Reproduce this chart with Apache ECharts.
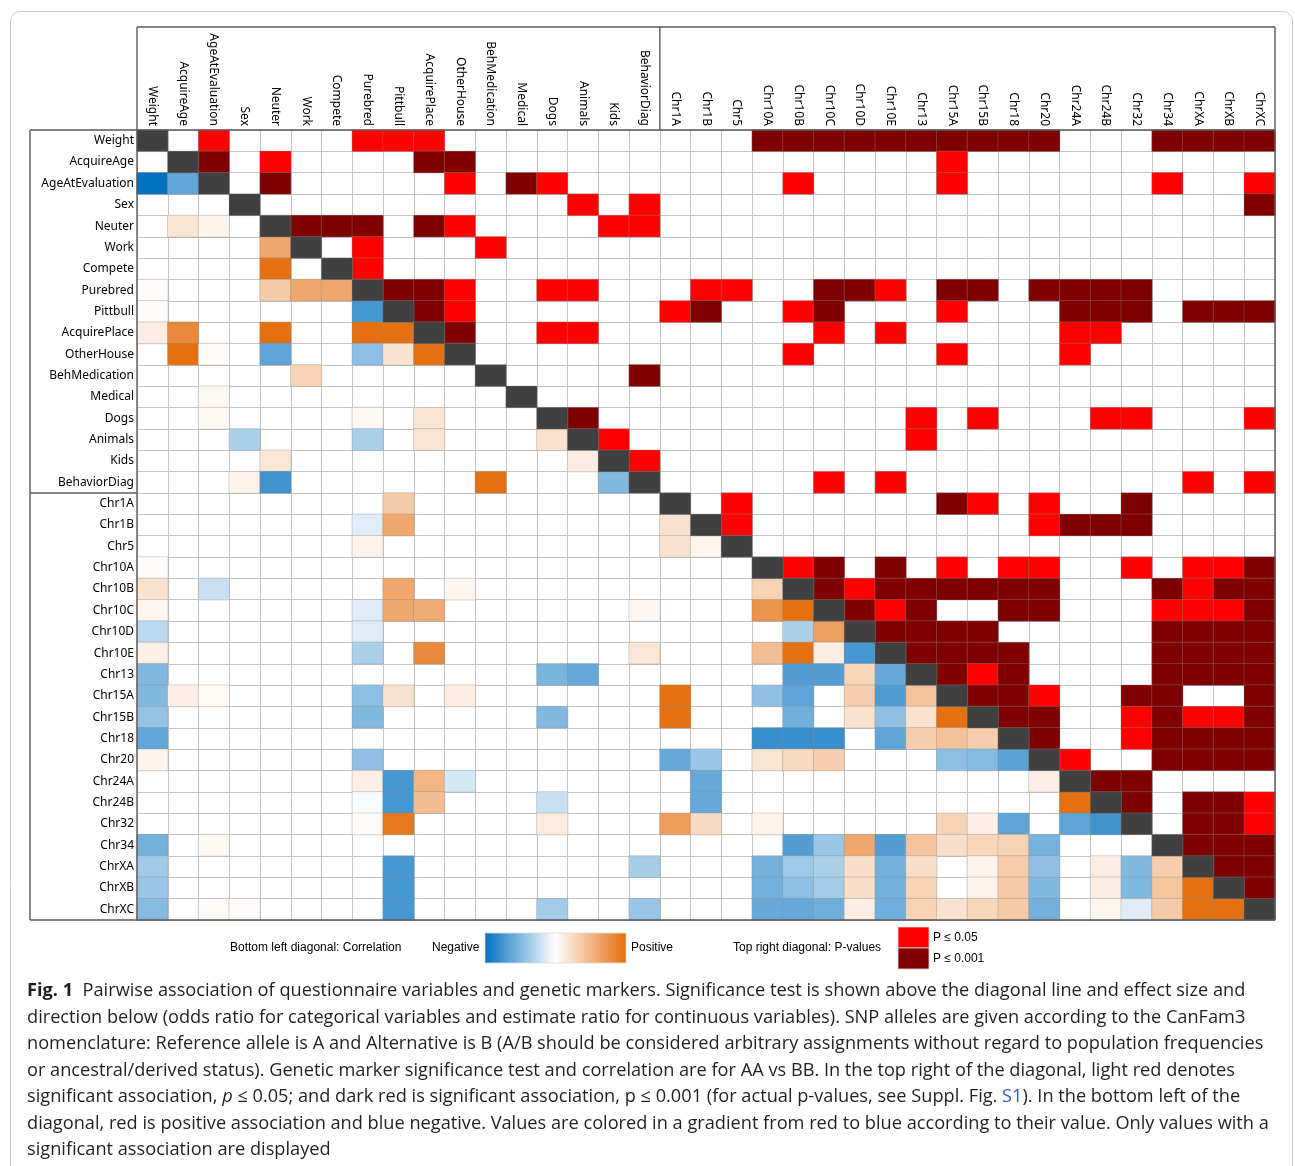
<!DOCTYPE html>
<html>
<head>
<meta charset="utf-8">
<script src="https://cdn.jsdelivr.net/npm/echarts@6/dist/echarts.min.js"></script>
<style>
  html, body { margin: 0; padding: 0; background: #fff; }
  #chart { width: 1295px; height: 1166px; }
</style>
</head>
<body>
<div id="chart"></div>
<script>
// Questionnaire variables followed by the genetic markers
const questionnaire = ['Weight', 'AcquireAge', 'AgeAtEvaluation', 'Sex', 'Neuter', 'Work', 'Compete',
  'Purebred', 'Pittbull', 'AcquirePlace', 'OtherHouse', 'BehMedication', 'Medical', 'Dogs', 'Animals',
  'Kids', 'BehaviorDiag'];
const markers = ['Chr1A', 'Chr1B', 'Chr5', 'Chr10A', 'Chr10B', 'Chr10C', 'Chr10D', 'Chr10E', 'Chr13',
  'Chr15A', 'Chr15B', 'Chr18', 'Chr20', 'Chr24A', 'Chr24B', 'Chr32', 'Chr34', 'ChrXA', 'ChrXB', 'ChrXC'];
const variables = questionnaire.concat(markers);

// Above the diagonal: [row, column, level], level 1 = P ≤ 0.05, level 2 = P ≤ 0.001
const significance = [
  [0,2,1],[0,7,1],[0,8,1],[0,9,1],[0,20,2],[0,21,2],[0,22,2],[0,23,2],[0,24,2],[0,25,2],[0,26,2],[0,27,2],[0,28,2],[0,29,2],[0,33,2],[0,34,2],[0,35,2],[0,36,2],
  [1,2,2],[1,4,1],[1,9,2],[1,10,2],[1,26,1],
  [2,4,2],[2,10,1],[2,12,2],[2,13,1],[2,21,1],[2,26,1],[2,33,1],[2,36,1],
  [3,14,1],[3,16,1],[3,36,2],
  [4,5,2],[4,6,2],[4,7,2],[4,9,2],[4,10,1],[4,15,1],[4,16,1],
  [5,7,1],[5,11,1],
  [6,7,1],
  [7,8,2],[7,9,2],[7,10,1],[7,13,1],[7,14,1],[7,18,1],[7,19,1],[7,22,2],[7,23,2],[7,24,1],[7,26,2],[7,27,2],[7,29,2],[7,30,2],[7,31,2],[7,32,2],
  [8,9,2],[8,10,1],[8,17,1],[8,18,2],[8,21,1],[8,22,2],[8,26,1],[8,30,2],[8,31,2],[8,32,2],[8,34,2],[8,35,2],[8,36,2],
  [9,10,2],[9,13,1],[9,14,1],[9,22,1],[9,24,1],[9,30,1],[9,31,1],
  [10,21,1],[10,26,1],[10,30,1],
  [11,16,2],
  [13,14,2],[13,25,1],[13,27,1],[13,31,1],[13,32,1],[13,36,1],
  [14,15,1],[14,25,1],
  [15,16,1],
  [16,22,1],[16,24,1],[16,34,1],[16,36,1],
  [17,19,1],[17,26,2],[17,27,1],[17,29,1],[17,32,2],
  [18,19,1],[18,29,1],[18,30,2],[18,31,2],[18,32,2],
  [20,21,1],[20,22,2],[20,24,2],[20,26,1],[20,28,1],[20,29,1],[20,32,1],[20,34,1],[20,35,1],[20,36,2],
  [21,22,2],[21,23,1],[21,24,2],[21,25,2],[21,26,2],[21,27,2],[21,28,2],[21,29,2],[21,33,2],[21,34,1],[21,35,2],[21,36,2],
  [22,23,2],[22,24,1],[22,25,2],[22,28,2],[22,29,2],[22,33,1],[22,34,1],[22,35,1],[22,36,2],
  [23,24,2],[23,25,2],[23,26,2],[23,27,2],[23,33,2],[23,34,2],[23,35,2],[23,36,2],
  [24,25,2],[24,26,2],[24,27,2],[24,28,2],[24,33,2],[24,34,2],[24,35,2],[24,36,2],
  [25,26,2],[25,27,1],[25,28,2],[25,33,2],[25,34,2],[25,35,2],[25,36,2],
  [26,27,2],[26,28,2],[26,29,1],[26,32,2],[26,33,2],[26,36,2],
  [27,28,2],[27,29,2],[27,32,1],[27,33,2],[27,34,1],[27,35,1],[27,36,2],
  [28,29,2],[28,32,1],[28,33,2],[28,34,2],[28,35,2],[28,36,2],
  [29,30,1],[29,33,2],[29,34,2],[29,35,2],[29,36,2],
  [30,31,2],[30,32,2],
  [31,32,2],[31,34,2],[31,35,2],[31,36,1],
  [32,34,2],[32,35,2],[32,36,1],
  [33,34,2],[33,35,2],[33,36,2],
  [34,35,2],[34,36,2],
  [35,36,2]
];

// Below the diagonal: [row, column, effect], -1 = strongest negative, 1 = strongest positive
const correlation = [
  [2,0,-1.0],[2,1,-0.62],
  [4,1,0.18],[4,2,0.08],
  [5,4,0.6],
  [6,4,0.97],
  [7,0,0.03],[7,4,0.36],[7,5,0.6],[7,6,0.6],
  [8,0,0.03],[8,7,-0.73],
  [9,0,0.12],[9,1,0.8],[9,4,0.97],[9,7,0.97],[9,8,0.97],
  [10,1,0.97],[10,2,0.03],[10,4,-0.63],[10,7,-0.45],[10,8,0.2],[10,9,0.97],
  [11,5,0.3],
  [12,2,0.05],
  [13,2,0.05],[13,7,0.05],[13,9,0.18],
  [14,3,-0.33],[14,7,-0.33],[14,9,0.18],[14,13,0.2],
  [15,4,0.17],[15,14,0.12],
  [16,3,0.08],[16,4,-0.75],[16,11,0.97],[16,15,-0.5],
  [17,8,0.36],
  [18,7,-0.12],[18,8,0.6],[18,17,0.2],
  [19,7,0.08],[19,17,0.2],[19,18,0.07],
  [20,0,0.03],
  [21,0,0.2],[21,2,-0.22],[21,8,0.6],[21,10,0.07],[21,20,0.3],
  [22,0,0.06],[22,7,-0.13],[22,8,0.6],[22,9,0.57],[22,16,0.06],[22,20,0.73],[22,21,0.97],
  [23,0,-0.27],[23,7,-0.13],[23,21,-0.33],[23,22,0.65],
  [24,0,0.1],[24,7,-0.33],[24,9,0.8],[24,16,0.17],[24,20,0.44],[24,21,0.97],[24,22,0.12],[24,23,-0.73],
  [25,0,-0.5],[25,13,-0.52],[25,14,-0.6],[25,21,-0.68],[25,22,-0.68],[25,23,0.28],[25,24,-0.6],
  [26,0,-0.5],[26,1,0.1],[26,2,0.04],[26,7,-0.45],[26,8,0.2],[26,10,0.12],[26,17,0.97],[26,20,-0.44],[26,21,-0.63],[26,23,0.33],[26,24,-0.7],[26,25,0.41],
  [27,0,-0.42],[27,7,-0.5],[27,13,-0.5],[27,17,0.97],[27,21,-0.56],[27,23,0.2],[27,24,-0.44],[27,25,0.2],[27,26,0.97],
  [28,0,-0.62],[28,20,-0.78],[28,21,-0.78],[28,22,-0.78],[28,24,-0.63],[28,25,0.33],[28,26,0.42],[28,27,0.33],
  [29,0,0.08],[29,7,-0.44],[29,17,-0.6],[29,18,-0.4],[29,20,0.18],[29,21,0.25],[29,22,0.33],[29,26,-0.45],[29,27,-0.48],[29,28,-0.65],
  [30,7,0.1],[30,8,-0.73],[30,9,0.5],[30,10,-0.17],[30,18,-0.6],[30,29,0.1],
  [31,7,-0.03],[31,8,-0.73],[31,9,0.45],[31,13,-0.22],[31,18,-0.6],[31,30,0.97],
  [32,7,0.03],[32,8,0.92],[32,13,0.13],[32,17,0.67],[32,18,0.25],[32,20,0.08],[32,26,0.3],[32,27,0.1],[32,28,-0.63],[32,30,-0.63],[32,31,-0.75],
  [33,0,-0.55],[33,2,0.05],[33,21,-0.68],[33,22,-0.4],[33,23,0.6],[33,24,-0.68],[33,25,0.41],[33,26,0.22],[33,27,0.28],[33,28,0.3],[33,29,-0.54],
  [34,0,-0.38],[34,8,-0.73],[34,16,-0.35],[34,20,-0.55],[34,21,-0.38],[34,22,-0.33],[34,23,0.22],[34,24,-0.55],[34,25,0.22],[34,27,0.08],[34,28,0.35],[34,29,-0.44],[34,31,0.12],[34,32,-0.5],[34,33,0.33],
  [35,0,-0.4],[35,8,-0.73],[35,20,-0.55],[35,21,-0.45],[35,22,-0.36],[35,23,0.22],[35,24,-0.55],[35,25,0.3],[35,27,0.08],[35,28,0.36],[35,29,-0.5],[35,31,0.12],[35,32,-0.5],[35,33,0.4],[35,34,0.97],
  [36,0,-0.48],[36,2,0.04],[36,3,0.02],[36,8,-0.72],[36,13,-0.36],[36,16,-0.4],[36,20,-0.6],[36,21,-0.6],[36,22,-0.56],[36,23,0.12],[36,24,-0.56],[36,25,0.3],[36,26,0.2],[36,27,0.28],[36,28,0.36],[36,29,-0.55],[36,31,0.07],[36,32,-0.13],[36,33,0.36],[36,34,0.97],[36,35,0.97]
];

const legendLabels = ['Bottom left diagonal: Correlation', 'Negative', 'Positive', 'Top right diagonal: P-values', 'P ≤ 0.05', 'P ≤ 0.001'];

const captionLines = [
  '{b|Fig. 1}  Pairwise association of questionnaire variables and genetic markers. Significance test is shown above the diagonal line and effect size and',
  'direction below (odds ratio for categorical variables and estimate ratio for continuous variables). SNP alleles are given according to the CanFam3',
  'nomenclature: Reference allele is A and Alternative is B (A/B should be considered arbitrary assignments without regard to population frequencies',
  'or ancestral/derived status). Genetic marker significance test and correlation are for AA vs BB. In the top right of the diagonal, light red denotes',
  'significant association, {i|p} ≤ 0.05; and dark red is significant association, p ≤ 0.001 (for actual p-values, see Suppl. Fig. {l|S1}). In the bottom left of the',
  'diagonal, red is positive association and blue negative. Values are colored in a gradient from red to blue according to their value. Only values with a',
  'significant association are displayed'
];

// Colours
const NEG = '#0070C0', POS = '#E46C0A', SIG = '#FF0000', STRONG = '#7F0000', DIAG = '#404040';
const FRAME = '#5a5a5a';
const labelFont = '"Noto Sans", sans-serif';
const legendFont = '"Liberation Sans", Arial, sans-serif';
const captionFont = '"Open Sans", sans-serif';
const captionSize = 18.2;

// Layout of the matrix
const G = { left: 137, top: 130, width: 1138, height: 790 };
const n = variables.length;
const cw = G.width / n, ch = G.height / n;
const xAt = i => G.left + i * cw;
const yAt = i => G.top + i * ch;
const right = G.left + G.width, bottom = G.top + G.height;
const splitCol = xAt(questionnaire.length), splitRow = yAt(questionnaire.length);

function line(x1, y1, x2, y2) {
  return { type: 'line', silent: true, z: 100,
    shape: { x1, y1, x2, y2 },
    style: { stroke: FRAME, lineWidth: 1.4 } };
}
function label(text, x, y, extra) {
  return { type: 'text', silent: true, x, y,
    style: Object.assign({ text, fill: '#000', font: '12px ' + legendFont, verticalAlign: 'middle' }, extra || {}) };
}

const frames = [
  line(G.left, 27, right, 27),
  line(G.left, 27, G.left, bottom),
  line(right, 27, right, bottom),
  line(splitCol, 27, splitCol, G.top),
  line(30, G.top, right, G.top),
  line(30, G.top, 30, bottom),
  line(30, bottom, right, bottom),
  line(30, splitRow, G.left, splitRow)
];

const legend = [
  label(legendLabels[0], 230, 948),
  label(legendLabels[1], 432, 948),
  { type: 'rect', silent: true, shape: { x: 485, y: 933, width: 141, height: 30 },
    style: { stroke: '#dcdcdc', lineWidth: 0.8,
      fill: new echarts.graphic.LinearGradient(0, 0, 1, 0, [
        { offset: 0, color: NEG }, { offset: 0.5, color: '#ffffff' }, { offset: 1, color: POS }]) } },
  label(legendLabels[2], 631, 948),
  label(legendLabels[3], 733, 948),
  { type: 'rect', silent: true, shape: { x: 898, y: 927, width: 31, height: 21 },
    style: { fill: SIG, stroke: '#d8d8d8', lineWidth: 0.8 } },
  { type: 'rect', silent: true, shape: { x: 898, y: 948, width: 31, height: 21 },
    style: { fill: STRONG, stroke: '#d8d8d8', lineWidth: 0.8 } },
  label(legendLabels[4], 933, 938),
  label(legendLabels[5], 933, 959)
];

const caption = captionLines.map((t, i) => ({
  type: 'text', silent: true, x: 27, y: 991 + i * 26.5,
  style: {
    text: t, fill: '#231f20', font: captionSize + 'px ' + captionFont, verticalAlign: 'middle',
    rich: {
      b: { fontWeight: 'bold', fontSize: captionSize, fontFamily: captionFont, fill: '#231f20' },
      i: { fontStyle: 'italic', fontSize: captionSize, fontFamily: captionFont, fill: '#231f20' },
      l: { fontSize: captionSize, fontFamily: captionFont, fill: '#2e5fce' }
    }
  }
}));

const border = { type: 'rect', silent: true, z: -10,
  shape: { x: 10.5, y: 11.5, width: 1282, height: 1200, r: 10 },
  style: { fill: 'none', stroke: '#c9c9c9', lineWidth: 1 } };

const chart = echarts.init(document.getElementById('chart'), null, { renderer: 'canvas' });
chart.setOption({
  animation: false,
  backgroundColor: '#ffffff',
  grid: { left: G.left, top: G.top, width: G.width, height: G.height, containLabel: false },
  xAxis: {
    type: 'category', data: variables, position: 'top',
    axisLine: { show: false }, axisTick: { show: false },
    axisLabel: { rotate: 90, interval: 0, margin: 4, color: '#000', fontSize: 12, fontFamily: labelFont },
    splitLine: { show: true, interval: 0, lineStyle: { color: '#c4c4c4', width: 1 } }
  },
  yAxis: {
    type: 'category', data: variables, inverse: true,
    axisLine: { show: false }, axisTick: { show: false },
    axisLabel: { interval: 0, margin: 3, color: '#000', fontSize: 12, fontFamily: labelFont },
    splitLine: { show: true, interval: 0, lineStyle: { color: '#c4c4c4', width: 1 } }
  },
  visualMap: [
    { type: 'continuous', seriesIndex: 0, min: -1, max: 1, show: false,
      inRange: { color: [NEG, '#ffffff', POS] } },
    { type: 'piecewise', seriesIndex: 1, show: false,
      pieces: [{ value: 1, color: SIG }, { value: 2, color: STRONG }, { value: 3, color: DIAG }] }
  ],
  series: [
    { type: 'heatmap', name: 'Correlation',
      data: correlation.map(([r, c, v]) => [c, r, v]),
      itemStyle: { borderColor: 'rgba(140,140,140,0.35)', borderWidth: 1 },
      emphasis: { disabled: true } },
    { type: 'heatmap', name: 'P-values',
      data: significance.map(([r, c, l]) => [c, r, l]).concat(variables.map((_, i) => [i, i, 3])),
      itemStyle: { borderColor: 'rgba(140,140,140,0.35)', borderWidth: 1 },
      emphasis: { disabled: true } }
  ],
  graphic: [border].concat(frames, legend, caption)
});
</script>
</body>
</html>
